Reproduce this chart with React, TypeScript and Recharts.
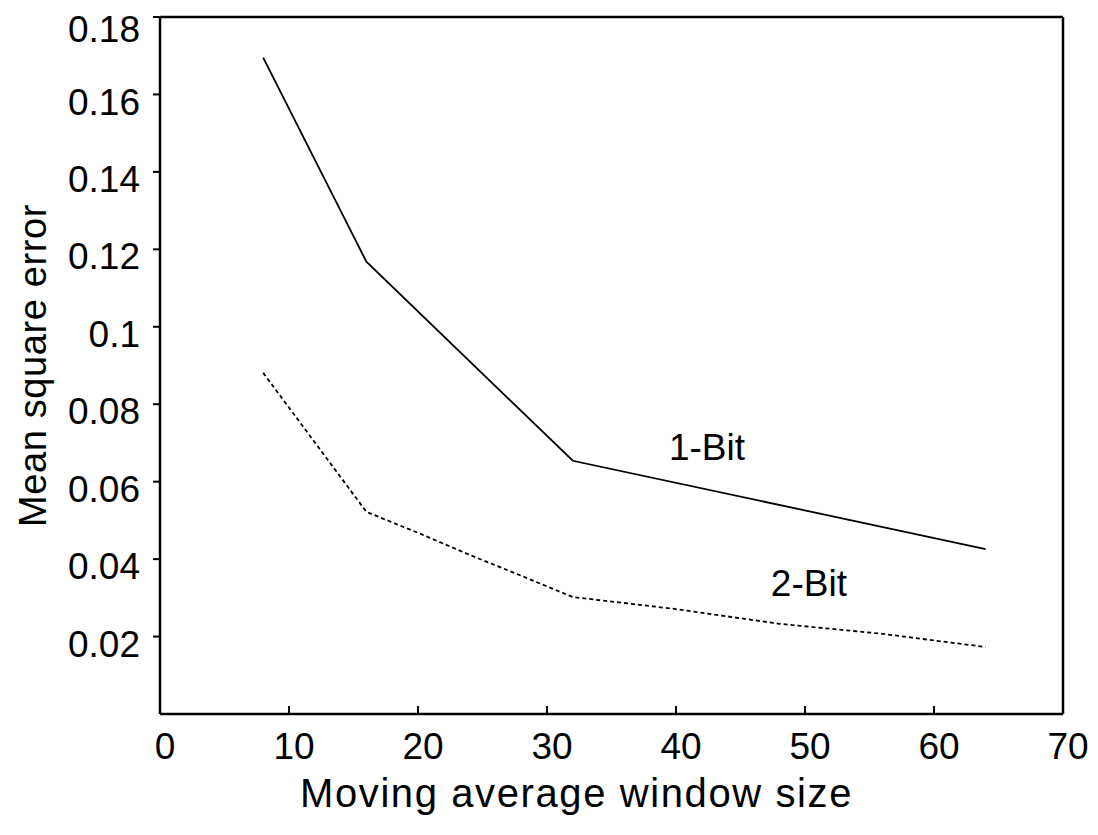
import { LineChart, Line, XAxis, YAxis, ReferenceDot } from "recharts";

// window sizes and mean square error
const windowSizes1Bit = [8, 16, 32, 64];
const mse1Bit = [0.1695, 0.1168, 0.0654, 0.0426];

const windowSizes2Bit = [8, 16, 20, 24, 28, 32, 40, 48, 56, 64];
const mse2Bit = [0.0881, 0.0522, 0.0468, 0.0411, 0.0357, 0.0302, 0.0271, 0.0233, 0.0207, 0.0173];

const xTicks = [0, 10, 20, 30, 40, 50, 60, 70];
const yTicks = [0.02, 0.04, 0.06, 0.08, 0.1, 0.12, 0.14, 0.16, 0.18];

const seriesLabels = [
  { name: "1-Bit", x: 42.4, y: 0.069 },
  { name: "2-Bit", x: 50.3, y: 0.0338 },
];

const oneBit = windowSizes1Bit.map((w, i) => ({ w, mse: mse1Bit[i] }));
const twoBit = windowSizes2Bit.map((w, i) => ({ w, mse: mse2Bit[i] }));

const FONT = "'Liberation Sans', Arial, Helvetica, sans-serif";
const FS = 37;
const axisStroke = { stroke: "#000", strokeWidth: 2.5 };
const tickStroke = { stroke: "#000", strokeWidth: 2 };

function fmtY(v: number) {
  return String(Number(Number(v).toFixed(2)));
}

export default function App() {
  return (
    <div style={{ position: "fixed", left: 0, top: 0, background: "#fff", fontFamily: FONT }}>
      <LineChart width={1098} height={835} margin={{ top: 16, right: 34, bottom: 0, left: 0 }}>
        <XAxis
          dataKey="w"
          type="number"
          domain={[0, 70]}
          ticks={xTicks}
          allowDataOverflow
          height={121}
          axisLine={axisStroke}
          tickLine={tickStroke}
          tickSize={-8}
          tickMargin={27}
          tick={{ fill: "#000", fontSize: FS, fontFamily: FONT, dx: 5 }}
          label={{
            content: (props: any) => {
              const vb = props.viewBox;
              return (
                <text
                  x={vb.x + vb.width / 2 - 35}
                  y={vb.y + vb.height - 28}
                  textAnchor="middle"
                  fill="#000"
                  fontSize={40}
                  letterSpacing={1.6}
                  fontFamily={FONT}
                >
                  Moving average window size
                </text>
              );
            },
          }}
        />
        <XAxis
          xAxisId="top"
          orientation="top"
          type="number"
          domain={[0, 70]}
          ticks={xTicks}
          allowDataOverflow
          height={1}
          axisLine={axisStroke}
          tickLine={tickStroke}
          tickSize={-8}
          tick={false}
        />
        <YAxis
          type="number"
          domain={[0, 0.18]}
          ticks={yTicks}
          allowDataOverflow
          width={160}
          axisLine={axisStroke}
          tickLine={tickStroke}
          tickSize={7}
          tickMargin={13}
          tickFormatter={fmtY}
          tick={{ fill: "#000", fontSize: FS, fontFamily: FONT, dy: 7 }}
          label={{
            content: (props: any) => {
              const vb = props.viewBox;
              const cx = vb.x + 33;
              const cy = vb.y + vb.height / 2;
              return (
                <text
                  x={cx}
                  y={cy}
                  transform={`rotate(-90 ${cx} ${cy})`}
                  textAnchor="middle"
                  dominantBaseline="central"
                  fill="#000"
                  fontSize={38}
                  letterSpacing={0.6}
                  fontFamily={FONT}
                >
                  Mean square error
                </text>
              );
            },
          }}
        />
        <YAxis
          yAxisId="right"
          orientation="right"
          type="number"
          domain={[0, 0.18]}
          ticks={yTicks}
          allowDataOverflow
          width={1}
          axisLine={axisStroke}
          tickLine={tickStroke}
          tickSize={-8}
          tick={false}
        />
        <Line
          data={oneBit}
          dataKey="mse"
          type="linear"
          stroke="#000"
          strokeWidth={1.8}
          dot={false}
          isAnimationActive={false}
        />
        <Line
          data={twoBit}
          dataKey="mse"
          type="linear"
          stroke="#000"
          strokeWidth={1.8}
          strokeDasharray="4 3"
          dot={false}
          isAnimationActive={false}
        />
        {seriesLabels.map((s) => (
          <ReferenceDot
            key={s.name}
            x={s.x}
            y={s.y}
            r={0}
            fill="none"
            stroke="none"
            label={{ value: s.name, position: "center", fill: "#000", fontSize: FS, fontFamily: FONT }}
          />
        ))}
      </LineChart>
    </div>
  );
}
